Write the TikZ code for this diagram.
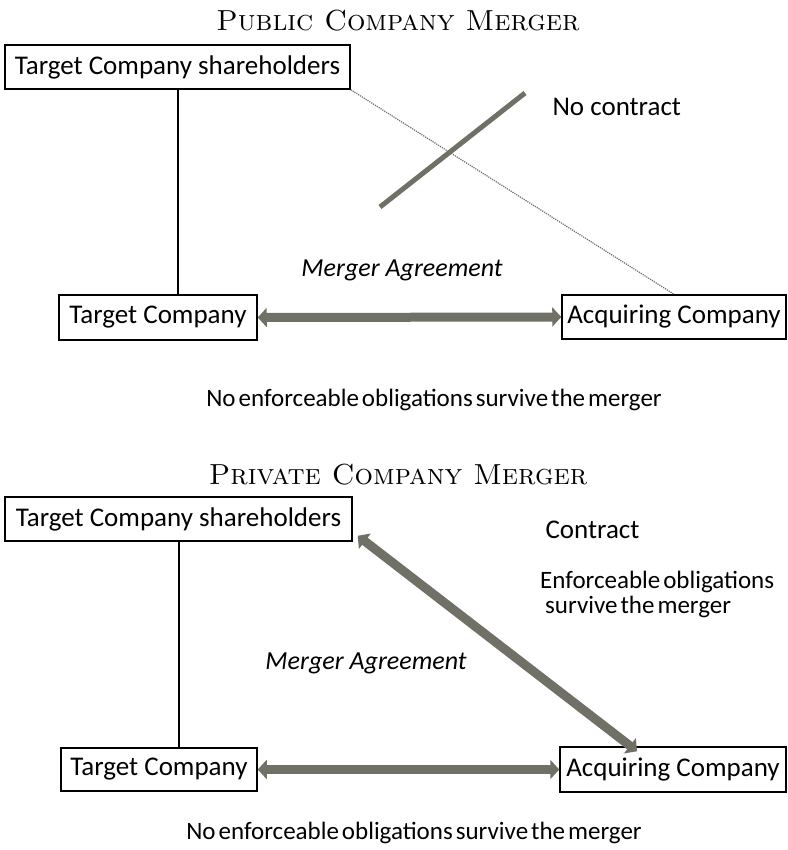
\documentclass[tikz,border=0pt]{standalone}
\usepackage{fontspec}
\usepackage{tikz}
\usetikzlibrary{arrows.meta,calc}
\newfontfamily\calfont{Carlito}
\newcommand\tightspacing{\spaceskip=0.12em plus 0.02em\relax}
\definecolor{arrowgray}{RGB}{112,112,102}
\definecolor{thingray}{RGB}{110,110,110}

\begin{document}
\begin{tikzpicture}[x=1pt,y=-1pt,
    party/.style={draw=black, line width=1.5pt, inner sep=0pt, font=\calfont\fontsize{27}{31}\selectfont},
    heading/.style={font=\fontsize{29}{33}\selectfont\scshape},
    note/.style={font=\calfont\fontsize{27}{31}\selectfont},
    tightnote/.style={font=\calfont\fontsize{25}{25}\selectfont\tightspacing},
    agree/.style={font=\calfont\itshape\fontsize{26}{30}\selectfont},
    blockarrow/.style={draw=arrowgray, line width=9pt, {Triangle[length=9pt,width=19pt]}-{Triangle[length=9pt,width=19pt]}}]
			%%%%% START %%%%%
			\useasboundingbox (0,0) rectangle (787,850);

			% public company merger
			\node[heading, anchor=base] (pubtitle) at (398,31) {Public Company Merger};
			\node[party, minimum width=345pt, minimum height=44pt] (tcs1) at (177.5,67) {Target Company shareholders};
			\node[party, minimum width=198pt, minimum height=45pt] (tc1) at (158,317.5) {Target Company};
			\node[party, minimum width=224pt, minimum height=44pt] (ac1) at (674,317) {Acquiring Company};

			\draw[line width=2pt] (tcs1.south) -- (tcs1.south |- tc1.north);
			\draw[line width=1.2pt, color=thingray, densely dotted] (tcs1.south east) -- (ac1.north);
			\coordinate (crossA) at (380,207);
			\coordinate (crossB) at (525,93);
			\draw[line width=5pt, color=arrowgray] (crossA) -- (crossB);
			\node[note, anchor=west] (nocontract) at (549,107) {No contract};

			\node[agree] (agree1) at (402,270) {Merger Agreement};
			\draw[blockarrow] (tc1.east) -- (ac1.west);
			\node[tightnote] (noobl1) at (434,400) {No enforceable obligations survive the merger};

			% private company merger
			\node[heading, anchor=base] (privtitle) at (398,484) {Private Company Merger};
			\node[party, minimum width=347pt, minimum height=44pt] (tcs2) at (178.5,519) {Target Company shareholders};
			\node[party, minimum width=196pt, minimum height=43pt] (tc2) at (159,769.5) {Target Company};
			\node[party, minimum width=226pt, minimum height=45pt] (ac2) at (673,769.5) {Acquiring Company};

			\draw[line width=2pt] (tcs2.south) -- (tcs2.south |- tc2.north);
			\draw[blockarrow] ($(tcs2.south east)+(5,-6)$) -- ($(ac2.north)+(-36,5)$);
			\node[note, anchor=west] (contract) at (542,530) {Contract};
			\node[tightnote, anchor=west, align=left, inner sep=0pt] (enf) at (540,594)
			  {Enforceable obligations\\\hspace*{5pt}survive the merger};

			\node[agree] (agree2) at (366,663) {Merger Agreement};
			\draw[blockarrow] (tc2.east) -- (ac2.west);
			\node[tightnote] (noobl2) at (414,833) {No enforceable obligations survive the merger};
			%%%%% END %%%%%
\end{tikzpicture}
\end{document}
